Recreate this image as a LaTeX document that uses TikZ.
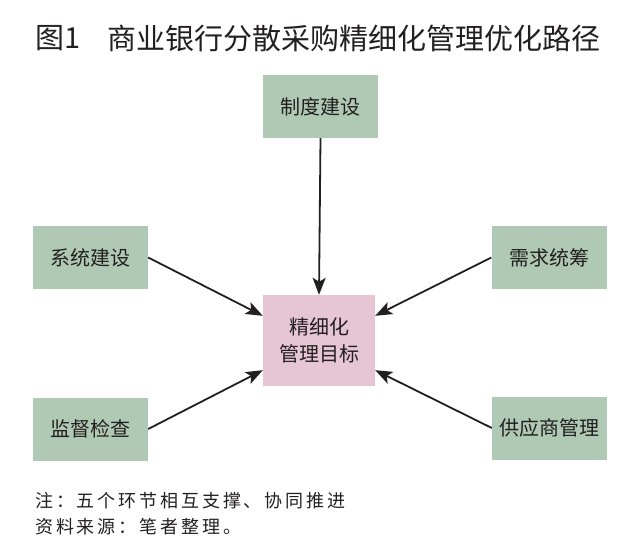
\documentclass[tikz,border=0pt]{standalone}
\usepackage{fontspec}
\setmainfont{Noto Sans CJK SC}
\usetikzlibrary{arrows.meta}

\definecolor{cgink}{RGB}{35,31,32}
\definecolor{cggreen}{RGB}{176,201,181}
\definecolor{cgpink}{RGB}{230,198,210}

\tikzset{
  cgbox/.style={rectangle, fill=cggreen, text=cgink, minimum width=115pt, minimum height=63pt, inner sep=0pt, font=\fontsize{20pt}{24pt}\selectfont},
  cggoal/.style={rectangle, fill=cgpink, text=cgink, minimum width=112pt, minimum height=91pt, inner sep=0pt, align=center, font=\fontsize{20pt}{27pt}\selectfont},
  cgedge/.style={draw=cgink, line width=1.8pt, -{Stealth[length=17pt, width=13pt, inset=4pt]}},
  cgtext/.style={anchor=west, inner sep=0pt, text=cgink},
  cgnote/.style={cgtext, font=\fontsize{18pt}{22pt}\selectfont\addfontfeatures{LetterSpace=16}}
}

\begin{document}
\begin{tikzpicture}[x=1pt, y=-1pt]
\useasboundingbox (0,0) rectangle (640,552);

\node[cgtext, font=\fontsize{29pt}{32pt}\selectfont] (tfig) at (35,38) {图1};
\node[cgtext, font=\fontsize{29pt}{32pt}\selectfont] (ttitle) at (107,38) {商业银行分散采购精细化管理优化路径};

\node[cgbox] (vtop) at (320.5,106.5) {制度建设};
\node[cgbox] (vleft) at (90.5,257.5) {系统建设};
\node[cgbox] (vright) at (549,257.5) {需求统筹};
\node[cgbox] (vbl) at (90.5,429) {监督检查};
\node[cgbox] (vbr) at (549.5,428) {供应商管理};

\node[cggoal] (vc) at (319,340.5) {精细化\\管理目标};

\draw[cgedge] (vtop.south) -- (vc.north);
\draw[cgedge] (vleft.east) -- ([yshift=-21pt]vc.north west);
\draw[cgedge] (vright.west) -- ([yshift=-21pt]vc.north east);
\draw[cgedge] (vbl.east) -- ([yshift=16pt]vc.south west);
\draw[cgedge] (vbr.west) -- ([yshift=16pt]vc.south east);

\node[cgnote] (tnote) at (35,501) {注：五个环节相互支撑、协同推进};
\node[cgnote] (tsrc) at (35,527) {资料来源：笔者整理。};
\end{tikzpicture}
\end{document}
